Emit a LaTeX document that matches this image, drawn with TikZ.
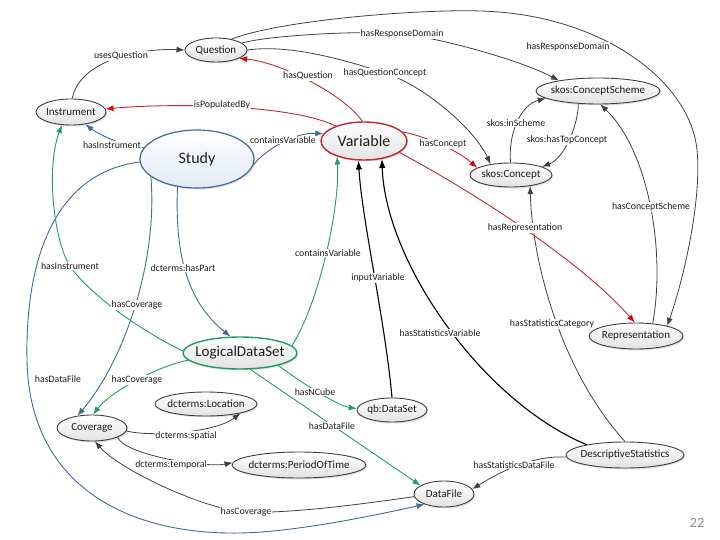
\documentclass[tikz,border=0pt]{standalone}
\usepackage{fontspec}
\setmainfont{Carlito}
\usetikzlibrary{shapes.geometric,arrows.meta,shadows}
\definecolor{dgray}{HTML}{404040}
\definecolor{txt}{HTML}{1E1E1E}
\definecolor{ered}{HTML}{C0282D}
\definecolor{redtip}{HTML}{E00000}
\definecolor{eblue}{HTML}{41699A}
\definecolor{egreen}{HTML}{1E9E5E}
\definecolor{nfill}{HTML}{E2E2E2}
\definecolor{sfill}{HTML}{E2EAF3}
\definecolor{pgray}{HTML}{8C8C8C}
\newcommand{\ntx}[1]{\makebox[0pt]{#1}}
\begin{document}
\begin{tikzpicture}[x=1pt,y=-1pt,
  ent/.style={ellipse, draw=dgray, line width=0.9pt, top color=white, bottom color=nfill,
    inner sep=0pt, text=txt, font=\fontsize{11}{13}\selectfont,
    drop shadow={shadow xshift=1.2pt,shadow yshift=-1.5pt,opacity=0.25}},
  lbl/.style={fill=white, inner sep=0.6pt, text=txt, font=\fontsize{9.8}{11}\selectfont},
  dk/.style={draw=dgray, line width=0.8pt, -{Latex[length=8pt,width=6pt]}},
  bk/.style={draw=black, line width=1.1pt, -{Latex[length=9pt,width=6.5pt]}},
  rd/.style={draw=ered, line width=0.9pt, -{Latex[length=8pt,width=6pt,color=redtip]}},
  bl/.style={draw=eblue, line width=0.9pt, -{Latex[length=8pt,width=6pt]}},
  gr/.style={draw=egreen, line width=0.9pt, -{Latex[length=8pt,width=6pt]}},
]
\useasboundingbox (0,0) rectangle (720,540);

% entities
\node[ent, minimum width=62pt, minimum height=24pt] (Q) at (216,50) {\ntx{Question}};
\node[ent, minimum width=70pt, minimum height=26pt] (I) at (71,112) {\ntx{Instrument}};
\node[ent, draw=eblue, line width=1.2pt, bottom color=sfill, minimum width=114pt, minimum height=58pt, font=\fontsize{16}{18}\selectfont] (S) at (197,159) {\ntx{Study}};
\node[ent, draw=ered, line width=1.4pt, minimum width=86pt, minimum height=38pt, font=\fontsize{16}{18}\selectfont] (V) at (364,141) {\ntx{Variable}};
\node[ent, minimum width=124pt, minimum height=26pt] (CS) at (598,91) {\ntx{skos:ConceptScheme}};
\node[ent, minimum width=82pt, minimum height=24pt] (C) at (511,175) {\ntx{skos:Concept}};
\node[ent, minimum width=94pt, minimum height=26pt] (R) at (636,336) {\ntx{Representation}};
\node[ent, draw=egreen, line width=1.4pt, minimum width=114pt, minimum height=32pt, font=\fontsize{15}{17}\selectfont] (L) at (240,353) {\ntx{LogicalDataSet}};
\node[ent, minimum width=102pt, minimum height=24pt] (Loc) at (206,404) {\ntx{dcterms:Location}};
\node[ent, minimum width=70pt, minimum height=26pt] (Cov) at (92,428) {\ntx{Coverage}};
\node[ent, minimum width=70pt, minimum height=24pt] (QB) at (392,410) {\ntx{qb:DataSet}};
\node[ent, minimum width=134pt, minimum height=26pt] (P) at (299,465) {\ntx{dcterms:PeriodOfTime}};
\node[ent, minimum width=60pt, minimum height=26pt] (DF) at (444,494) {\ntx{DataFile}};
\node[ent, minimum width=118pt, minimum height=26pt] (DS) at (625,455) {\ntx{DescriptiveStatistics}};

% connectors
\draw[dk] (I.85) .. controls (80,60) and (140,48) .. (Q.west);
\draw[dk] (Q.15) .. controls (270,35) and (370,30) .. (402,34) .. controls (440,38) and (520,60) .. (CS.165);
\draw[dk] (Q.35) .. controls (280,20) and (420,9) .. (480,11) .. controls (600,14) and (690,80) .. (697,150) .. controls (702,200) and (683.5,279.5) .. (R.18);
\draw[dk] (Q.east) .. controls (290,44) and (345,60) .. (385,73) .. controls (425,86) and (475,130) .. (C.152);
\draw[rd] (V.95) .. controls (345,95) and (280,62) .. (Q.-20);
\draw[rd] (V.152) .. controls (290,104) and (170,103) .. (I.5);
\draw[bl] (S.168) .. controls (125,148) and (95,132) .. (I.-40);
\draw[bl] (S.-6) .. controls (265,150) and (295,132) .. (V.170);
\draw[rd] (V.13) .. controls (420,135) and (455,148) .. (C.168);
\draw[rd] (V.-18) .. controls (470,190) and (580,260) .. (R.95);
\draw[dk] (C.92) .. controls (508,135) and (520,105) .. (CS.188);
\draw[dk] (CS.213) .. controls (578,125) and (565,158) .. (C.15);
\draw[dk] (R.37) .. controls (666,250) and (648,150) .. (CS.-80);
\draw[dk] (DS.90) .. controls (560,370) and (532,260) .. (C.-30);
\draw[bk] (DS.165) .. controls (480,400) and (385,260) .. (V.-45);
\draw[bk] (QB.90) .. controls (385,320) and (362,220) .. (V.-106);
\draw[gr] (L.8) .. controls (318,305) and (340,210) .. (V.-150);
\draw[bl] (S.-125) .. controls (175,250) and (185,300) .. (L.120);
\draw[bl] (S.-159) .. controls (158,260) and (125,360) .. (Cov.140);
\draw[bl] (S.183) .. controls (60,172) and (25,250) .. (27,360) .. controls (29,480) and (120,535) .. (240,533) .. controls (300,532) and (390,512) .. (DF.-152);
\draw[gr] (L.178) .. controls (140,330) and (90,295) .. (70,266) .. controls (55,244) and (45,170) .. (I.-125);
\draw[gr] (L.188) .. controls (160,365) and (110,392) .. (Cov.85);
\draw[gr] (L.-18) .. controls (295,378) and (335,405) .. (QB.178);
\draw[gr] (L.-58) -- (DF.160);
\draw[dk] (Cov.-5) .. controls (150,437) and (215,433) .. (Loc.-15);
\draw[dk] (Cov.-20) .. controls (125,455) and (205,468) .. (P.178);
\draw[dk] (DF.185) .. controls (370,503) and (290,514) .. (246,512) .. controls (205,510) and (120,470) .. (Cov.-78);
\draw[dk] (DS.182) .. controls (530,455) and (495,475) .. (DF.10);

% labels
\node[lbl] (l1) at (121,56) {usesQuestion};
\node[lbl] (l2) at (402,34) {hasResponseDomain};
\node[lbl] (l3) at (568,47) {hasResponseDomain};
\node[lbl] (l4) at (308,76) {hasQuestion};
\node[lbl] (l5) at (385,73) {hasQuestionConcept};
\node[lbl] (l6) at (222,105) {isPopulatedBy};
\node[lbl] (l7) at (516,123) {skos:inScheme};
\node[lbl] (l8) at (112,145) {hasInstrument};
\node[lbl] (l9) at (283,140) {containsVariable};
\node[lbl] (l10) at (443,144) {hasConcept};
\node[lbl] (l11) at (567,140) {skos:hasTopConcept};
\node[lbl] (l12) at (651,207) {hasConceptScheme};
\node[lbl] (l13) at (525,228) {hasRepresentation};
\node[lbl] (l14) at (328,253) {containsVariable};
\node[lbl] (l15) at (70,266) {hasInstrument};
\node[lbl] (l16) at (183,268) {dcterms:hasPart};
\node[lbl] (l17) at (378,278) {inputVariable};
\node[lbl] (l18) at (137,305) {hasCoverage};
\node[lbl] (l19) at (552,324) {hasStatisticsCategory};
\node[lbl] (l20) at (440,333) {hasStatisticsVariable};
\node[lbl] (l21) at (58,379) {hasDataFile};
\node[lbl] (l22) at (137,380) {hasCoverage};
\node[lbl] (l23) at (315,392) {hasNCube};
\node[lbl] (l24) at (332,426) {hasDataFile};
\node[lbl] (l25) at (186,436) {dcterms:spatial};
\node[lbl] (l26) at (171,465) {dcterms:temporal};
\node[lbl] (l27) at (514,465) {hasStatisticsDataFile};
\node[lbl] (l28) at (246,512) {hasCoverage};

\node[text=pgray, font=\fontsize{14}{16}\selectfont] (pg) at (697,523) {22};
\end{tikzpicture}
\end{document}
